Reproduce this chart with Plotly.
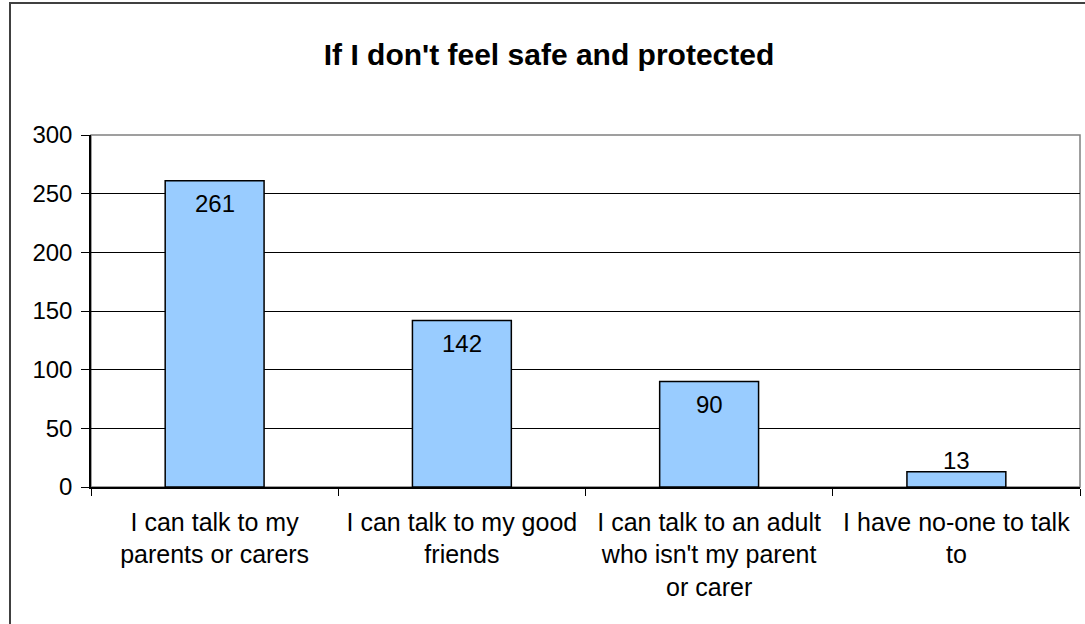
import plotly.graph_objects as go

# Survey responses: who children can talk to when they feel unsafe
categories = [
    "I can talk to my<br>parents or carers",
    "I can talk to my good<br>friends",
    "I can talk to an adult<br>who isn't my parent<br>or carer",
    "I have no-one to talk<br>to",
]
counts = [261, 142, 90, 13]
y_ticks = [0, 50, 100, 150, 200, 250, 300]

FONT = "Liberation Sans, Arial, sans-serif"
W, H = 1085, 624
L, R, T, B = 91, 5, 135, 137
plot_w = W - L - R
plot_h = H - T - B

fig = go.Figure()
fig.add_trace(go.Bar(
    x=categories,
    y=counts,
    width=0.4,
    marker=dict(color="#99CCFF", line=dict(color="#000000", width=1.5)),
    hoverinfo="x+y",
))

# Value labels: inside the top of tall bars, just above short ones
for cat, v in zip(categories, counts):
    inside = v >= 30
    fig.add_annotation(
        x=cat, y=v, text=str(v), showarrow=False,
        xref="x", yref="y",
        yanchor="middle",
        yshift=-23 if inside else 11,
        font=dict(family=FONT, size=24, color="#000000"),
    )

# Grey plot-area frame
fig.add_shape(type="rect", xref="paper", yref="paper",
              x0=0, x1=1, y0=0, y1=1,
              line=dict(color="#808080", width=1.5), layer="below")

# Outer chart frame (top and left edges fall inside the page)
def px_x(px):
    return (px - L) / plot_w

def px_y(py):
    return (H - B - py) / plot_h

fig.add_shape(type="rect", xref="paper", yref="paper",
              x0=px_x(10), x1=px_x(1100), y0=px_y(640), y1=px_y(3),
              line=dict(color="#404040", width=2), layer="above")

fig.update_layout(
    width=W, height=H,
    margin=dict(l=L, r=R, t=T, b=B, pad=0),
    paper_bgcolor="#FFFFFF",
    plot_bgcolor="#FFFFFF",
    showlegend=False,
    bargap=0.6,
    title=dict(
        text="<b>If I don't feel safe and protected</b>",
        x=549 / W, xref="container", xanchor="center",
        y=1 - 54 / H, yref="container", yanchor="middle",
        font=dict(family=FONT, size=30, color="#000000"),
    ),
    font=dict(family=FONT, size=24, color="#000000"),
)

fig.update_xaxes(
    type="category",
    showgrid=False,
    showline=True, linecolor="#000000", linewidth=1.5,
    ticks="outside", tickson="boundaries", ticklen=7,
    tickcolor="#000000", tickwidth=1,
    tickfont=dict(family=FONT, size=25, color="#000000"),
    ticklabelstandoff=12,
)
fig.update_yaxes(
    range=[0, 300],
    tickvals=y_ticks,
    ticktext=[str(t) for t in y_ticks],
    showgrid=True, gridcolor="#000000", gridwidth=1,
    zeroline=False,
    showline=True, linecolor="#000000", linewidth=1.5,
    ticks="outside", ticklen=8, tickcolor="#000000", tickwidth=1,
    tickfont=dict(family=FONT, size=24, color="#000000"),
    ticklabelstandoff=4,
)

fig.write_html("out.html")
